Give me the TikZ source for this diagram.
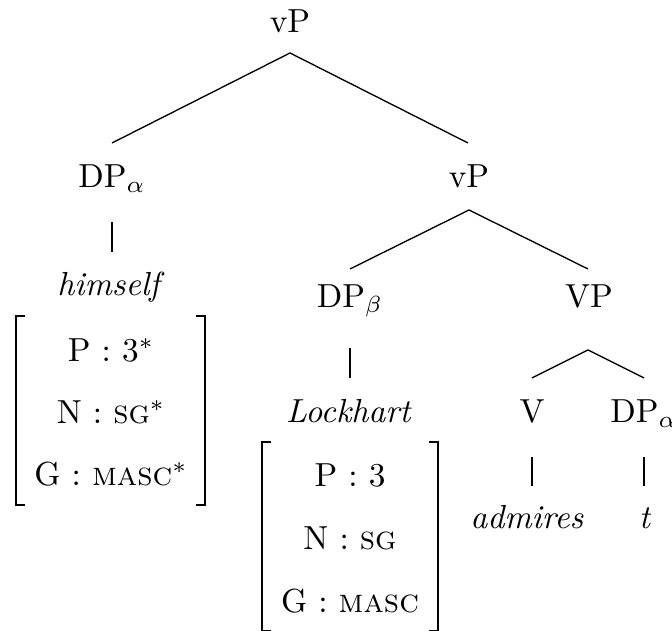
\documentclass[tikz,border=0pt]{standalone}
\usetikzlibrary{calc}
\begin{document}
\begin{tikzpicture}[x=0.3pt,y=-0.3pt,
  lbl/.style={anchor=base,inner sep=0pt},
  fbox/.style={inner sep=0pt,outer sep=0pt},
  brk/.style={line width=0.5pt}]
\useasboundingbox (0,0) rectangle (672,631);
% tree labels
\node[lbl] (vP) at (290,33) {vP};
\node[lbl] (DPa) at (112,188) {DP$_\alpha$};
\node[lbl] (vPb) at (469,188) {vP};
\node[lbl] (himself) at (111,296) {\textit{himself}};
\node[lbl] (DPb) at (350,308) {DP$_\beta$};
\node[lbl] (VP) at (589,308) {VP};
\node[lbl] (Lock) at (349,423) {\textit{Lockhart}};
\node[lbl] (V) at (532,423) {V};
\node[lbl] (DPc) at (644,423) {DP$_\alpha$};
\node[lbl] (adm) at (527,529) {\textit{admires}};
\node[lbl] (t) at (645,529) {\textit{t}};
% branches
\draw ($(vP.base)+(0,20)$) -- ($(DPa.base)+(0,-45)$);
\draw ($(vP.base)+(0,20)$) -- ($(vPb.base)+(-1,-45)$);
\draw ($(DPa.base)+(0,34)$) -- ($(himself.base)+(1,-44)$);
\draw ($(vPb.base)+(0,22)$) -- ($(DPb.base)+(0,-39)$);
\draw ($(vPb.base)+(0,22)$) -- ($(VP.base)+(-1,-39)$);
\draw ($(DPb.base)+(0,40)$) -- ($(Lock.base)+(1,-45)$);
\draw ($(VP.base)+(-1,42)$) -- ($(V.base)+(0,-45)$);
\draw ($(VP.base)+(-1,42)$) -- ($(DPc.base)+(0,-45)$);
\draw ($(V.base)+(0,34)$) -- ($(adm.base)+(5,-43)$);
\draw ($(DPc.base)+(0,34)$) -- ($(t.base)+(-1,-43)$);
% feature matrices
\node[fbox, minimum width=56.7pt, minimum height=56.7pt] (fa) at (110.5,410.5) {};
\node[fbox, minimum width=52.8pt, minimum height=56.7pt] (fb) at (350,536.5) {};
\draw[brk] ([xshift=2.8pt]fa.north west) -- (fa.north west) -- (fa.south west) -- ([xshift=2.8pt]fa.south west);
\draw[brk] ([xshift=-2.8pt]fa.north east) -- (fa.north east) -- (fa.south east) -- ([xshift=-2.8pt]fa.south east);
\draw[brk] ([xshift=2.8pt]fb.north west) -- (fb.north west) -- (fb.south west) -- ([xshift=2.8pt]fb.south west);
\draw[brk] ([xshift=-2.8pt]fb.north east) -- (fb.north east) -- (fb.south east) -- ([xshift=-2.8pt]fb.south east);
\node[lbl] (fa1) at (111,362) {P : 3$^*$};
\node[lbl] (fa2) at (111,424) {N : \textsc{sg}$^*$};
\node[lbl] (fa3) at (111,486) {G : \textsc{masc}$^*$};
\node[lbl] (fb1) at (350,487) {P : 3};
\node[lbl] (fb2) at (350,550) {N : \textsc{sg}};
\node[lbl] (fb3) at (350,613) {G : \textsc{masc}};
\end{tikzpicture}
\end{document}
